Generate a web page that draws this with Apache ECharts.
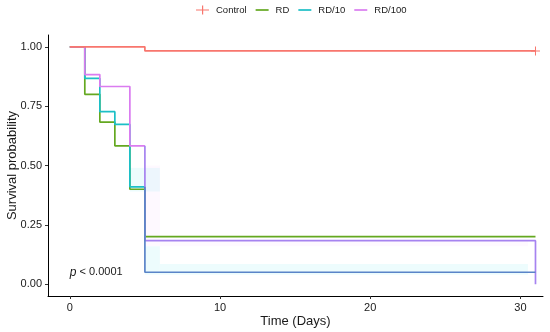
<!DOCTYPE html>
<html>
<head>
<meta charset="utf-8">
<script src="https://cdn.jsdelivr.net/npm/echarts@6/dist/echarts.min.js"></script>
<style>html,body{margin:0;padding:0;background:#fff}#c{width:550px;height:332px}</style>
</head>
<body>
<div id="c"></div>
<script>
// ---- data ----
const groupNames = ['Control', 'RD', 'RD/10', 'RD/100'];
const controlDays = [0, 5, 31];
const controlSurv = [1, 0.983, 0.983];
const rdDays = [0, 1, 2, 3, 4, 5, 31];
const rdSurv = [1, 0.80, 0.683, 0.583, 0.40, 0.20, 0.20];
const rd10Days = [0, 1, 2, 3, 4, 5, 31];
const rd10Surv = [1, 0.867, 0.727, 0.673, 0.41, 0.05, 0.05];
const rd100Days = [0, 1, 2, 4, 5, 31, 31];
const rd100Surv = [1, 0.883, 0.833, 0.583, 0.183, 0.183, 0];
// confidence ribbons: [fromDay, toDay, lower, upper]
const rd10Band = [[4, 6, 0.39, 0.49], [5, 6, 0.04, 0.16], [6, 30.5, 0.04, 0.085]];
const rd100Band = [[5, 6, 0.16, 0.50], [6, 30.5, 0.16, 0.185]];
const xTicks = [0, 10, 20, 30];
const yTicks = [0, 0.25, 0.5, 0.75, 1];

const FONT = 'Liberation Sans, Arial, sans-serif';
const TXT = '#1a1a1a';
const plus = 'path://M4,0 L5,0 L5,4 L9,4 L9,5 L5,5 L5,9 L4,9 L4,5 L0,5 L0,4 L4,4 Z';
const plusLineIcon = 'path://M6,0 L7.2,0 L7.2,3.9 L13,3.9 L13,5.1 L7.2,5.1 L7.2,9 L6,9 L6,5.1 L0,5.1 L0,3.9 L6,3.9 Z';
const lineIcon = 'path://M0,0 L13,0 L13,1.7 L0,1.7 Z';

function pts(days, surv) { return days.map((d, i) => [d, surv[i]]); }
// split a step curve at a given day into before / after parts
function splitAt(days, surv, cut) {
  const before = [], after = [];
  let prev = surv[0];
  days.forEach((d, i) => {
    if (d < cut) { before.push([d, surv[i]]); prev = surv[i]; }
  });
  before.push([cut, prev]);
  after.push([cut, prev]);
  days.forEach((d, i) => { if (d >= cut) after.push([d, surv[i]]); });
  return [before, after];
}
const [rd10A, rd10B] = splitAt(rd10Days, rd10Surv, 5);
const [rd100A, rd100B] = splitAt(rd100Days, rd100Surv, 5);

function band(data, color) {
  return {
    type: 'custom', silent: true, z: 1, data: data,
    renderItem: function (params, api) {
      const p0 = api.coord([api.value(0), api.value(3)]);
      const p1 = api.coord([api.value(1), api.value(2)]);
      return { type: 'rect', shape: { x: p0[0], y: p0[1], width: p1[0] - p0[0], height: p1[1] - p0[1] },
        style: { fill: color } };
    }
  };
}
function stepLine(name, data, color, z) {
  return { name: name, type: 'line', step: 'end', data: data, symbol: 'none', z: z || 3,
    lineStyle: { color: color, width: 1.7 }, itemStyle: { color: color }, animation: false };
}

const controlData = pts(controlDays, controlSurv).map((p, i, a) =>
  i === a.length - 1 ? { value: p } : { value: p, symbol: 'none' });

const legendColors = ['#F8766D', '#64A820', '#1CBFC6', '#DA7CF0'];

const chart = echarts.init(document.getElementById('c'), null, { renderer: 'canvas' });
chart.setOption({
  animation: false,
  textStyle: { fontFamily: FONT },
  legend: {
    top: 0, left: 191, itemWidth: 13, itemHeight: 9, itemGap: 9, symbolKeepAspect: true,
    textStyle: { fontSize: 9.5, color: TXT, fontFamily: FONT, padding: [0, 0, 0, 2] },
    data: groupNames.map((n, i) => ({
      name: n, icon: i === 0 ? plusLineIcon : lineIcon,
      itemStyle: { color: legendColors[i], borderWidth: 0 }
    }))
  },
  grid: { left: 48, right: 7, top: 35, bottom: 36, outerBoundsMode: 'none', containLabel: false },
  xAxis: {
    type: 'value', min: -1.45, max: 31.5,
    name: 'Time (Days)', nameLocation: 'middle', nameGap: 19, nameMoveOverlap: false,
    nameTextStyle: { fontSize: 13, color: TXT, fontFamily: FONT },
    axisLine: { onZero: false, lineStyle: { color: '#000', width: 1 } },
    axisTick: { length: 3, customValues: xTicks, lineStyle: { color: '#333' } },
    axisLabel: { customValues: xTicks, margin: 6, fontSize: 11, color: TXT, fontFamily: FONT },
    splitLine: { show: false }
  },
  yAxis: {
    type: 'value', min: -0.05, max: 1.05,
    name: 'Survival probability', nameLocation: 'middle', nameGap: 29, nameMoveOverlap: false,
    nameTextStyle: { fontSize: 13, color: TXT, fontFamily: FONT },
    axisLine: { show: true, onZero: false, lineStyle: { color: '#000', width: 1 } },
    axisTick: { show: true, length: 3, customValues: yTicks, lineStyle: { color: '#333' } },
    axisLabel: { customValues: yTicks, margin: 6, fontSize: 11, color: TXT, fontFamily: FONT,
      formatter: v => v.toFixed(2) },
    splitLine: { show: false }
  },
  series: [
    band(rd10Band, 'rgba(0,215,225,0.07)'),
    band(rd100Band, 'rgba(235,120,245,0.045)'),
    {
      name: 'Control', type: 'line', step: 'end', data: controlData, symbol: plus, symbolSize: 9,
      showSymbol: true, z: 4, lineStyle: { color: '#F8766D', width: 1.7 }, itemStyle: { color: '#F8766D' }
    },
    stepLine('RD', pts(rdDays, rdSurv), '#64A820', 3),
    stepLine('RD/10', rd10A, '#1CBFC6', 3),
    stepLine('RD/10', rd10B, '#5A84C8', 4),
    stepLine('RD/100', rd100A, '#DA7CF0', 3),
    stepLine('RD/100', rd100B, '#A683F0', 3)
  ]
});
const pp = chart.convertToPixel({ gridIndex: 0 }, [0, 0.05]);
chart.setOption({
  graphic: [{
    type: 'text', x: pp[0], y: pp[1], silent: true,
    style: {
      text: '{i|p} < 0.0001', verticalAlign: 'middle', align: 'left',
      rich: { i: { fontStyle: 'italic', fontSize: 12, fontFamily: FONT, fill: TXT } },
      fontSize: 11, fontFamily: FONT, fill: TXT
    }
  }]
});
</script>
</body>
</html>
